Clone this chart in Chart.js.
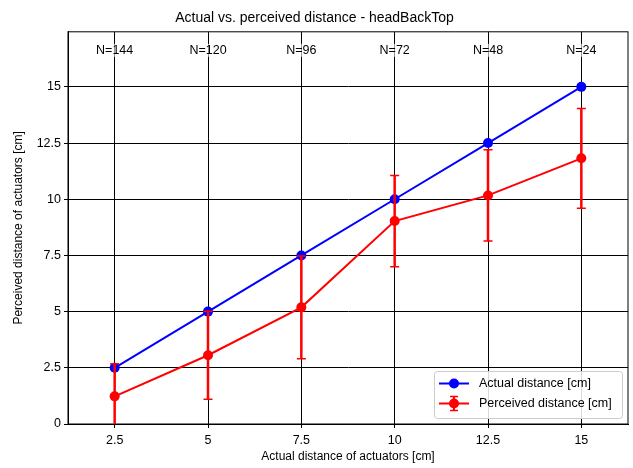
<!DOCTYPE html>
<html><head><meta charset="utf-8">
<script src="https://cdn.jsdelivr.net/npm/chart.js@4/dist/chart.umd.min.js"></script>
<style>html,body{margin:0;padding:0;background:#fff}#wrap{width:633px;height:468px}</style>
</head><body><div id="wrap"><canvas id="c" width="633" height="468"></canvas></div>
<script>
const distances = [2.5, 5, 7.5, 10, 12.5, 15];
const actualValues = [2.5, 5, 7.5, 10, 12.5, 15];
const perceivedValues = [1.23, 3.06, 5.19, 9.03, 10.17, 11.82];
const perceivedErrors = [1.45, 1.96, 2.29, 2.03, 2.03, 2.22];
const nLabels = ['N=144', 'N=120', 'N=96', 'N=72', 'N=48', 'N=24'];
const xTicks = [2.5, 5, 7.5, 10, 12.5, 15];
const yTicks = [0, 2.5, 5, 7.5, 10, 12.5, 15];

const FONT = 'Liberation Sans';

const frameAndN = {
  id: 'frameAndN',
  beforeDatasetsDraw(chart) {
    const {ctx, chartArea: a, scales: {x}} = chart;
    ctx.save();
    ctx.font = '12.5px "' + FONT + '"';
    ctx.textAlign = 'center';
    ctx.textBaseline = 'middle';
    nLabels.forEach((t, i) => {
      const px = x.getPixelForValue(distances[i]);
      const w = ctx.measureText(t).width;
      ctx.fillStyle = '#fff';
      ctx.globalAlpha = 0.6;
      ctx.fillRect(px - w / 2, a.top + 12, w, 13);
      ctx.globalAlpha = 1;
      ctx.fillStyle = '#000';
      ctx.fillText(t, px, a.top + 18.5);
    });
    ctx.strokeStyle = '#000';
    ctx.lineWidth = 1;
    ctx.strokeRect(a.left, a.top, a.right - a.left, a.bottom - a.top);
    ctx.restore();
  },
  afterDatasetsDraw(chart) {
    const {ctx, chartArea: a, scales: {x, y}} = chart;
    ctx.save();
    ctx.beginPath();
    ctx.rect(a.left, a.top, a.right - a.left, a.bottom - a.top);
    ctx.clip();
    ctx.strokeStyle = '#ff0000';
    distances.forEach((d, i) => {
      const px = x.getPixelForValue(d);
      const lo = y.getPixelForValue(perceivedValues[i] - perceivedErrors[i]);
      const hi = y.getPixelForValue(perceivedValues[i] + perceivedErrors[i]);
      ctx.lineWidth = 2.5;
      ctx.beginPath(); ctx.moveTo(px, lo); ctx.lineTo(px, hi); ctx.stroke();
      ctx.lineWidth = 1.5;
      ctx.beginPath();
      ctx.moveTo(px - 4.5, lo); ctx.lineTo(px + 4.5, lo);
      ctx.moveTo(px - 4.5, hi); ctx.lineTo(px + 4.5, hi);
      ctx.stroke();
    });
    ctx.restore();
    // legend
    ctx.save();
    const bx = a.right - 194, by = a.bottom - 53, bw = 188, bh = 47;
    ctx.fillStyle = 'rgba(255,255,255,0.85)';
    ctx.strokeStyle = '#cccccc';
    ctx.lineWidth = 1;
    ctx.beginPath();
    ctx.roundRect(bx + 0.5, by + 0.5, bw, bh, 3);
    ctx.fill(); ctx.stroke();
    const ds = chart.data.datasets;
    const rows = [ds[1], ds[0]];
    rows.forEach((d, i) => {
      const ry = by + 12.5 + i * 20;
      ctx.strokeStyle = d.borderColor;
      ctx.lineWidth = 2;
      ctx.beginPath(); ctx.moveTo(bx + 5, ry); ctx.lineTo(bx + 35, ry); ctx.stroke();
      if (i === 1) {
        ctx.lineWidth = 2;
        ctx.beginPath(); ctx.moveTo(bx + 20, ry - 7); ctx.lineTo(bx + 20, ry + 7); ctx.stroke();
        ctx.lineWidth = 1.5;
        ctx.beginPath(); ctx.moveTo(bx + 16, ry - 7); ctx.lineTo(bx + 24, ry - 7);
        ctx.moveTo(bx + 16, ry + 7); ctx.lineTo(bx + 24, ry + 7); ctx.stroke();
      }
      ctx.fillStyle = d.backgroundColor;
      ctx.beginPath(); ctx.arc(bx + 20, ry, 5, 0, Math.PI * 2); ctx.fill();
      ctx.fillStyle = '#000';
      ctx.font = '12.5px "' + FONT + '"';
      ctx.textAlign = 'left';
      ctx.textBaseline = 'middle';
      ctx.fillText(d.label, bx + 45, ry);
    });
    ctx.restore();
  }
};

new Chart(document.getElementById('c'), {
  type: 'line',
  data: {
    datasets: [
      {
        label: 'Perceived distance [cm]',
        data: distances.map((d, i) => ({x: d, y: perceivedValues[i]})),
        borderColor: '#ff0000', backgroundColor: '#ff0000',
        borderWidth: 2, pointRadius: 5, pointHoverRadius: 5, pointBorderWidth: 0,
        tension: 0, clip: false
      },
      {
        label: 'Actual distance [cm]',
        data: distances.map((d, i) => ({x: d, y: actualValues[i]})),
        borderColor: '#0000ff', backgroundColor: '#0000ff',
        borderWidth: 2, pointRadius: 5, pointHoverRadius: 5, pointBorderWidth: 0,
        tension: 0, clip: false
      }
    ]
  },
  options: {
    responsive: false,
    animation: false,
    events: [],
    layout: {padding: {left: 0, right: 4, top: 0, bottom: 0}},
    plugins: {
      legend: {display: false},
      tooltip: {enabled: false},
      title: {
        display: true,
        text: 'Actual vs. perceived distance - headBackTop',
        color: '#000',
        font: {family: FONT, size: 14, weight: 'normal'},
        padding: {top: 10, bottom: 5}
      }
    },
    scales: {
      x: {
        type: 'linear', min: 1.25, max: 16.25,
        afterBuildTicks: s => { s.ticks = xTicks.map(v => ({value: v})); },
        afterFit: s => { s.height = 44; },
        ticks: {color: '#000', font: {family: FONT, size: 12.5}, padding: 5, maxRotation: 0},
        grid: {color: '#000', lineWidth: 1, tickLength: 4, tickColor: '#000'},
        border: {color: '#000'},
        title: {display: true, text: 'Actual distance of actuators [cm]', color: '#000',
                font: {family: FONT, size: 12}, padding: {top: 2, bottom: 4}}
      },
      y: {
        type: 'linear', min: 0, max: 17.45,
        afterBuildTicks: s => { s.ticks = yTicks.map(v => ({value: v})); },
        ticks: {color: '#000', font: {family: FONT, size: 12.5}, padding: 3},
        afterFit: s => { s.width = 68; },
        grid: {color: '#000', lineWidth: 1, tickLength: 4, tickColor: '#000'},
        border: {color: '#000'},
        title: {display: true, text: 'Perceived distance of actuators [cm]', color: '#000',
                font: {family: FONT, size: 12}, padding: {top: 11, bottom: 0}}
      }
    }
  },
  plugins: [frameAndN]
});
</script>
</body></html>
